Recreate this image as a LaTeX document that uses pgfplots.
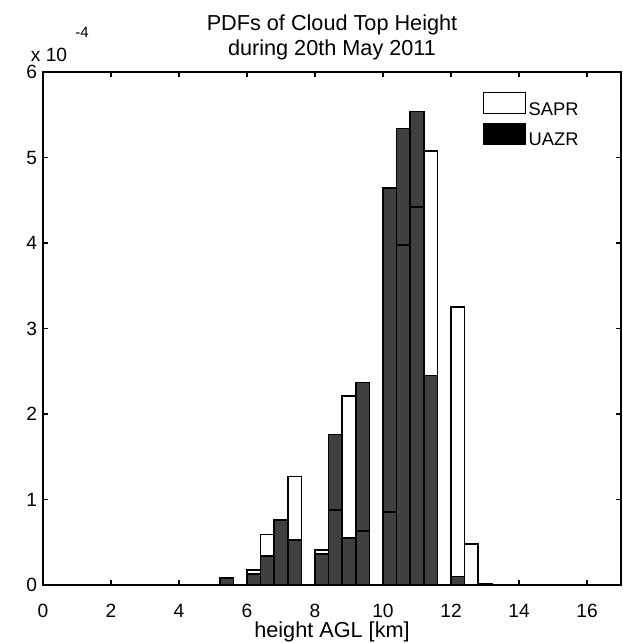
\documentclass[border=0pt]{standalone}
\usepackage{pgfplots}
\pgfplotsset{compat=1.18}
\usepackage{fontspec}
\setmainfont{Liberation Sans}
\definecolor{bargray}{RGB}{64,64,64}
\begin{document}
\begin{tikzpicture}
\begin{axis}[
  at={(0,0)}, anchor=south west,
  scale only axis, width=346.8pt, height=307.8pt,
  xmin=0, xmax=17, ymin=0, ymax=6,
  xtick={0,2,...,16}, ytick={0,1,...,6},
  tick align=inside, major tick length=3pt,
  axis line style={line width=0.7pt},
  every tick/.style={black, line width=0.7pt},
  /pgf/number format/assume math mode=true,
  ticklabel style={font=\fontsize{11.5}{13}\selectfont},
  xticklabel style={yshift=-8.2pt},
  xlabel={height AGL [km]},
  xlabel style={font=\fontsize{13}{15}\selectfont, at={(axis description cs:0.5,0)}, anchor=base, yshift=-31.2pt},
  legend style={at={(0.7612,0.961)}, anchor=north west, draw=none, fill=none,
    inner sep=0pt, outer sep=0pt, font=\fontsize{11}{13}\selectfont,
    row sep=2.8pt, nodes={inner sep=0pt},
    /tikz/every odd column/.append style={column sep=1.5pt}},
  legend cell align=left,
  legend image code/.code={\draw[#1] (0pt,-2pt) rectangle (25.2pt,10.6pt);},
]
% SAPR (white, behind)
\addplot[ybar, bar shift=0pt, bar width=0.4, fill=white, draw=black, line width=1pt, forget plot] coordinates {
 (6.2,0.175) (6.6,0.59) (7.4,1.27) (8.2,0.41) (8.6,0.88) (9.0,2.21) (9.4,0.635)
 (10.2,0.85) (10.6,3.98) (11.0,4.42) (11.4,5.08) (12.2,3.25) (12.6,0.48) (13.0,0.012)
};
% UAZR (gray, front)
\addplot[ybar, bar shift=0pt, bar width=0.4, fill=bargray, draw=black, line width=1pt, forget plot] coordinates {
 (5.4,0.085) (6.2,0.125) (6.6,0.34) (7.0,0.76) (7.4,0.53) (8.2,0.36) (8.6,1.76) (9.0,0.55) (9.4,2.37)
 (10.2,4.64) (10.6,5.34) (11.0,5.54) (11.4,2.45) (12.2,0.10)
};
% SAPR outlines on top
\addplot[ybar, bar shift=0pt, bar width=0.4, fill=none, draw=black, line width=1pt, forget plot] coordinates {
 (6.2,0.175) (6.6,0.59) (7.4,1.27) (8.2,0.41) (8.6,0.88) (9.0,2.21) (9.4,0.635)
 (10.2,0.85) (10.6,3.98) (11.0,4.42) (11.4,5.08) (12.2,3.25) (12.6,0.48) (13.0,0.012)
};
\addlegendimage{draw=black, fill=white, line width=0.7pt}
\addlegendentry{SAPR}
\addlegendimage{draw=black, fill=black, line width=0.7pt}
\addlegendentry{UAZR}
\end{axis}
\node[font=\fontsize{13}{15}\selectfont] at (173.4pt,336.3pt) {PDFs of Cloud Top Height};
\node[font=\fontsize{13}{15}\selectfont] at (173.4pt,321.3pt) {during 20th May 2011};
\node[font=\fontsize{11.5}{13}\selectfont] at (3.6pt,318pt) {x 10};
\node[font=\fontsize{9}{10}\selectfont] at (23.4pt,331.8pt) {-4};
\pgfresetboundingbox
\path (-25.8pt,-34.8pt) rectangle (348pt,351pt);
\end{tikzpicture}
\end{document}
